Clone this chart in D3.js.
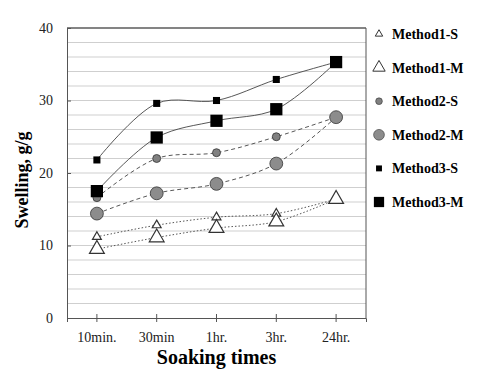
<!DOCTYPE html>
<html>
<head>
<meta charset="utf-8">
<script src="https://cdn.jsdelivr.net/npm/d3@7"></script>
<style>
  body { margin: 0; background: #fff; }
  text { font-family: "Liberation Serif", "DejaVu Serif", serif; }
</style>
</head>
<body>
<svg id="chart"></svg>
<script>
// categories and values
const times = ["10min.", "30min", "1hr.", "3hr.", "24hr."];
const method1S = [11.2, 12.8, 13.9, 14.4, 16.4];
const method1M = [9.5, 11.1, 12.4, 13.3, 16.4];
const method2S = [16.6, 22.0, 22.8, 25.0, 27.7];
const method2M = [14.4, 17.2, 18.5, 21.3, 27.7];
const method3S = [21.8, 29.6, 30.0, 32.9, 35.3];
const method3M = [17.5, 24.9, 27.2, 28.8, 35.3];
const yTicks = [0, 10, 20, 30, 40];

const width = 483, height = 376;
const margin = { top: 28, right: 117, bottom: 58, left: 67 };

const svg = d3.select("#chart").attr("width", width).attr("height", height);
const g = svg.append("g").attr("transform", `translate(${margin.left},${margin.top})`);
const w = width - margin.left - margin.right;
const h = height - margin.top - margin.bottom;

const x = d3.scaleBand().domain(times).range([0, w]);
const y = d3.scaleLinear().domain([0, 40]).range([h, 0]);

// gridlines every 2
g.append("g")
  .selectAll("line")
  .data(d3.range(2, 41, 2))
  .enter().append("line")
  .attr("x1", 0).attr("x2", w)
  .attr("y1", d => y(d)).attr("y2", d => y(d))
  .attr("stroke", "#cfcfcf").attr("stroke-width", 1);

// frame top and right
g.append("line").attr("x1", 0).attr("x2", w).attr("y1", 0).attr("y2", 0)
  .attr("stroke", "#222").attr("stroke-width", 1.2);
g.append("line").attr("x1", w).attr("x2", w).attr("y1", 0).attr("y2", h)
  .attr("stroke", "#555").attr("stroke-width", 1);

// axes
const yAxis = g.append("g")
  .call(d3.axisLeft(y).tickValues(yTicks).tickSizeInner(4).tickSizeOuter(0).tickPadding(10));
yAxis.selectAll(".tick line").attr("x2", 4);
yAxis.select(".domain").attr("stroke", "#555");
yAxis.selectAll(".tick line").attr("stroke", "#555");
yAxis.selectAll("text").style("font-size", "14px").attr("fill", "#222");

const xAxis = g.append("g").attr("transform", `translate(0,${h})`)
  .call(d3.axisBottom(x).tickSizeInner(4).tickSizeOuter(4).tickPadding(10));
xAxis.selectAll(".tick line").attr("y1", -4);
xAxis.select(".domain").attr("stroke", "#555");
xAxis.selectAll(".tick line").attr("stroke", "#555");
xAxis.selectAll("text").style("font-size", "14px").attr("fill", "#222");

// titles
svg.append("text")
  .attr("x", margin.left + w / 2).attr("y", 364)
  .attr("text-anchor", "middle")
  .style("font-size", "20px").style("font-weight", "bold")
  .text("Soaking times");

svg.append("text")
  .attr("transform", `translate(28,180) rotate(-90)`)
  .attr("text-anchor", "middle")
  .style("font-size", "18px").style("font-weight", "bold")
  .text("Swelling, g/g");

// series
const series = [
  { name: "Method1-S", values: method1S, shape: d3.symbolTriangle, size: 34, fill: "#fff", dash: "1.5,2" },
  { name: "Method1-M", values: method1M, shape: d3.symbolTriangle, size: 95, fill: "#fff", dash: "1.5,2" },
  { name: "Method2-S", values: method2S, shape: d3.symbolCircle, size: 50, fill: "#808080", dash: "4,3" },
  { name: "Method2-M", values: method2M, shape: d3.symbolCircle, size: 130, fill: "#8c8c8c", dash: "4,3" },
  { name: "Method3-S", values: method3S, shape: d3.symbolSquare, size: 50, fill: "#000", dash: null },
  { name: "Method3-M", values: method3M, shape: d3.symbolSquare, size: 150, fill: "#000", dash: null }
];

const cx = d => x(d) + x.bandwidth() / 2;
const line = d3.line()
  .x(d => cx(d.t))
  .y(d => y(d.v))
  .curve(d3.curveCatmullRom.alpha(0.5));

series.forEach(s => {
  const pts = times.map((t, i) => ({ t: t, v: s.values[i] }));
  g.append("path")
    .datum(pts)
    .attr("d", line)
    .attr("fill", "none")
    .attr("stroke", "#444")
    .attr("stroke-width", 0.9)
    .attr("stroke-dasharray", s.dash);
});

series.forEach(s => {
  const pts = times.map((t, i) => ({ t: t, v: s.values[i] }));
  g.selectAll(null)
    .data(pts)
    .enter().append("path")
    .attr("transform", d => `translate(${cx(d.t)},${y(d.v)})`)
    .attr("d", d3.symbol().type(s.shape).size(s.size))
    .attr("fill", s.fill)
    .attr("stroke", s.fill === "#000" ? "none" : "#333")
    .attr("stroke-width", s.shape === d3.symbolTriangle ? 1.2 : 0.8);
});

// legend
const legend = svg.append("g");
series.forEach((s, i) => {
  const ly = 34 + i * 33.6;
  legend.append("path")
    .attr("transform", `translate(379,${ly})`)
    .attr("d", d3.symbol().type(s.shape).size(s.size * 0.7))
    .attr("fill", s.fill)
    .attr("stroke", s.fill === "#000" ? "none" : "#333")
    .attr("stroke-width", s.shape === d3.symbolTriangle ? 1 : 0.6);
  legend.append("text")
    .attr("x", 392).attr("y", ly + 5)
    .style("font-size", "14px").style("font-weight", "bold")
    .text(s.name);
});
</script>
</body>
</html>
